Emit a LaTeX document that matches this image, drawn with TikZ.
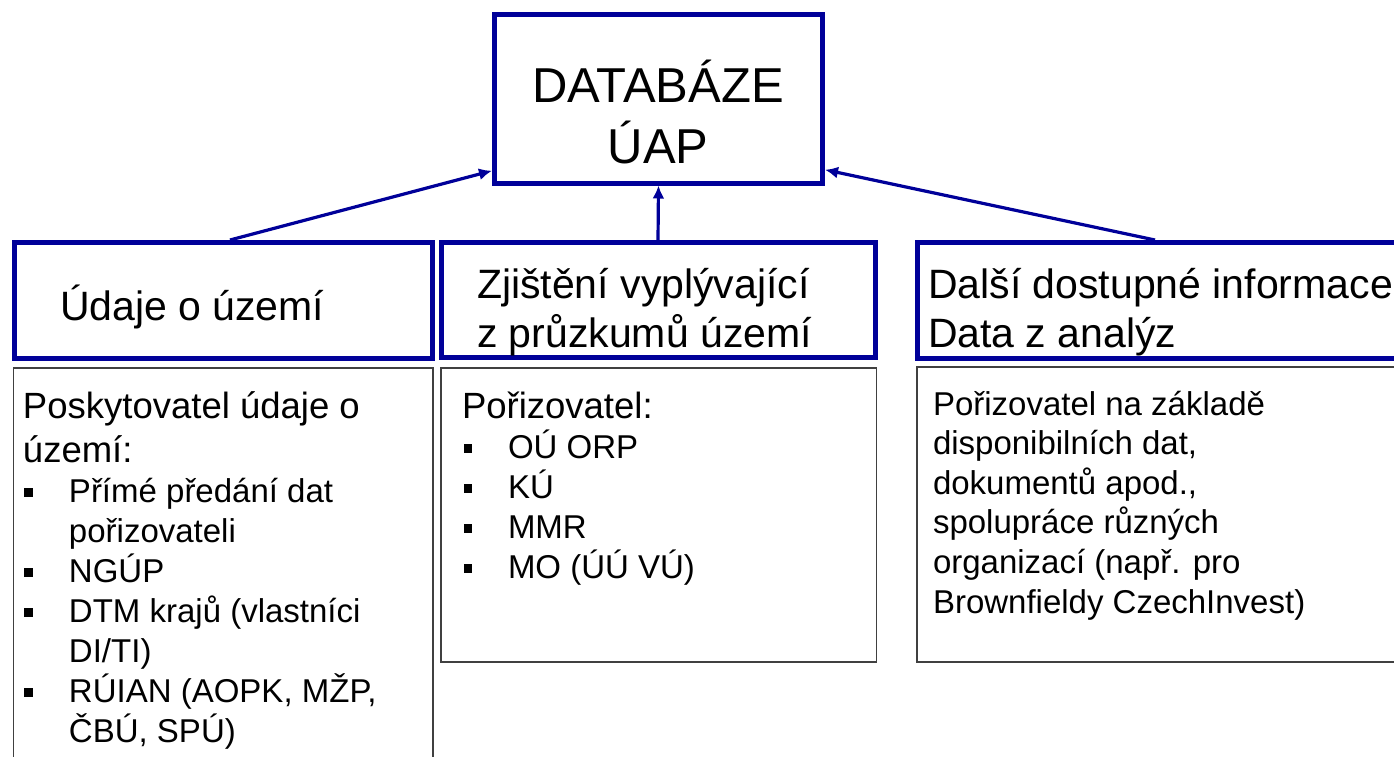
\documentclass[tikz,border=0pt]{standalone}
\usepackage{fontspec}
\setmainfont{Liberation Sans}
\usetikzlibrary{arrows.meta}
\definecolor{frameblue}{RGB}{0,0,153}
\definecolor{boxgray}{RGB}{64,64,64}
\tikzset{
  thickframe/.style={draw=frameblue, line width=5pt, rectangle, inner sep=0pt, fill=white},
  thinframe/.style={draw=boxgray, line width=1.5pt, rectangle, inner sep=0pt, fill=white},
  link/.style={draw=frameblue, line width=3.2pt, -{Latex[length=13pt,width=12pt]}},
  txt/.style={anchor=base west, inner sep=0pt, outer sep=0pt},
  ctxt/.style={anchor=base, inner sep=0pt, outer sep=0pt},
  bigfont/.style={font=\fontsize{49}{61}\selectfont},
  headfont/.style={font=\fontsize{41}{49}\selectfont},
  bodyfont/.style={font=\fontsize{36.5}{40}\selectfont},
  smallfont/.style={font=\fontsize{33}{39.6}\selectfont},
}
\newcommand{\itemfnt}{\fontsize{33}{40}\selectfont}
\newcommand{\sqbul}{\makebox[46pt][l]{\hspace{1.5pt}\rule[5.5pt]{8.5pt}{8.5pt}}\itemfnt}
\newcommand{\contind}{\hspace{46pt}\itemfnt}
\begin{document}
\begin{tikzpicture}[x=1pt,y=-1pt]
\useasboundingbox (0,0) rectangle (1394,756);
\fill[white] (0,0) rectangle (1394,756);
\clip (0,0) rectangle (1394,756);
% frames
\node[thickframe, minimum width=328pt, minimum height=168.5pt] (db) at (658.5,98.75) {};
\node[thickframe, minimum width=418pt, minimum height=116pt] (lh) at (223.5,300.5) {};
\node[thickframe, minimum width=434pt, minimum height=115pt] (mh) at (658,300) {};
\node[thickframe, minimum width=522.5pt, minimum height=115.5pt] (rh) at (1178.75,300.25) {};
\node[thinframe, minimum width=419.5pt, minimum height=452pt] (lb) at (223.25,594) {};
\node[thinframe, minimum width=435.5pt, minimum height=294pt] (mb) at (658.75,515) {};
\node[thinframe, minimum width=523pt, minimum height=295pt] (rb) at (1178.5,514.5) {};
% connectors
\draw[link] ([xshift=6.5pt]lh.north) -- ([yshift=-72pt]db.west);
\draw[link] (mh.north) -- (db.south);
\draw[link] ([xshift=240pt]rh.north west) -- ([yshift=-71pt]db.east);
% texts
\node[ctxt, bigfont] (dbt) at (658,102) {\vtop{\hbox to 0pt{\hss DATABÁZE\hss}\hbox to 0pt{\hss ÚAP\hss}}};
\node[txt, headfont] (lht) at (60,320) {Údaje o území};
\node[txt, headfont] (mht) at (477,298) {\vtop{\hbox{Zjištění vyplývající}\hbox{z průzkumů území}}};
\node[txt, headfont] (rht) at (928,298) {\vtop{\hbox{Další dostupné informace}\hbox{Data z analýz}}};
\node[txt, bodyfont] (lbt) at (23,418) {\vtop{%
  \hbox{Poskytovatel údaje o}\vskip4pt
  \hbox{území:}
  \hbox{\sqbul Přímé předání dat}
  \hbox{\contind pořizovateli}
  \hbox{\sqbul NGÚP}
  \hbox{\sqbul DTM krajů (vlastníci}
  \hbox{\contind DI/TI)}
  \hbox{\sqbul RÚIAN (AOPK, MŽP,}
  \hbox{\contind ČBÚ, SPÚ)}}};
\node[txt, bodyfont] (mbt) at (462,418) {\vtop{%
  \hbox{Pořizovatel:}
  \hbox{\sqbul OÚ ORP}
  \hbox{\sqbul KÚ}
  \hbox{\sqbul MMR}
  \hbox{\sqbul MO (ÚÚ VÚ)}}};
\node[txt, smallfont] (rbt) at (933,415) {\vtop{%
  \hbox{Pořizovatel na základě}
  \hbox{disponibilních dat,}
  \hbox{dokumentů apod.,}
  \hbox{spolupráce různých}
  \hbox{organizací (např. pro}
  \hbox{Brownfieldy CzechInvest)}}};
\end{tikzpicture}
\end{document}
